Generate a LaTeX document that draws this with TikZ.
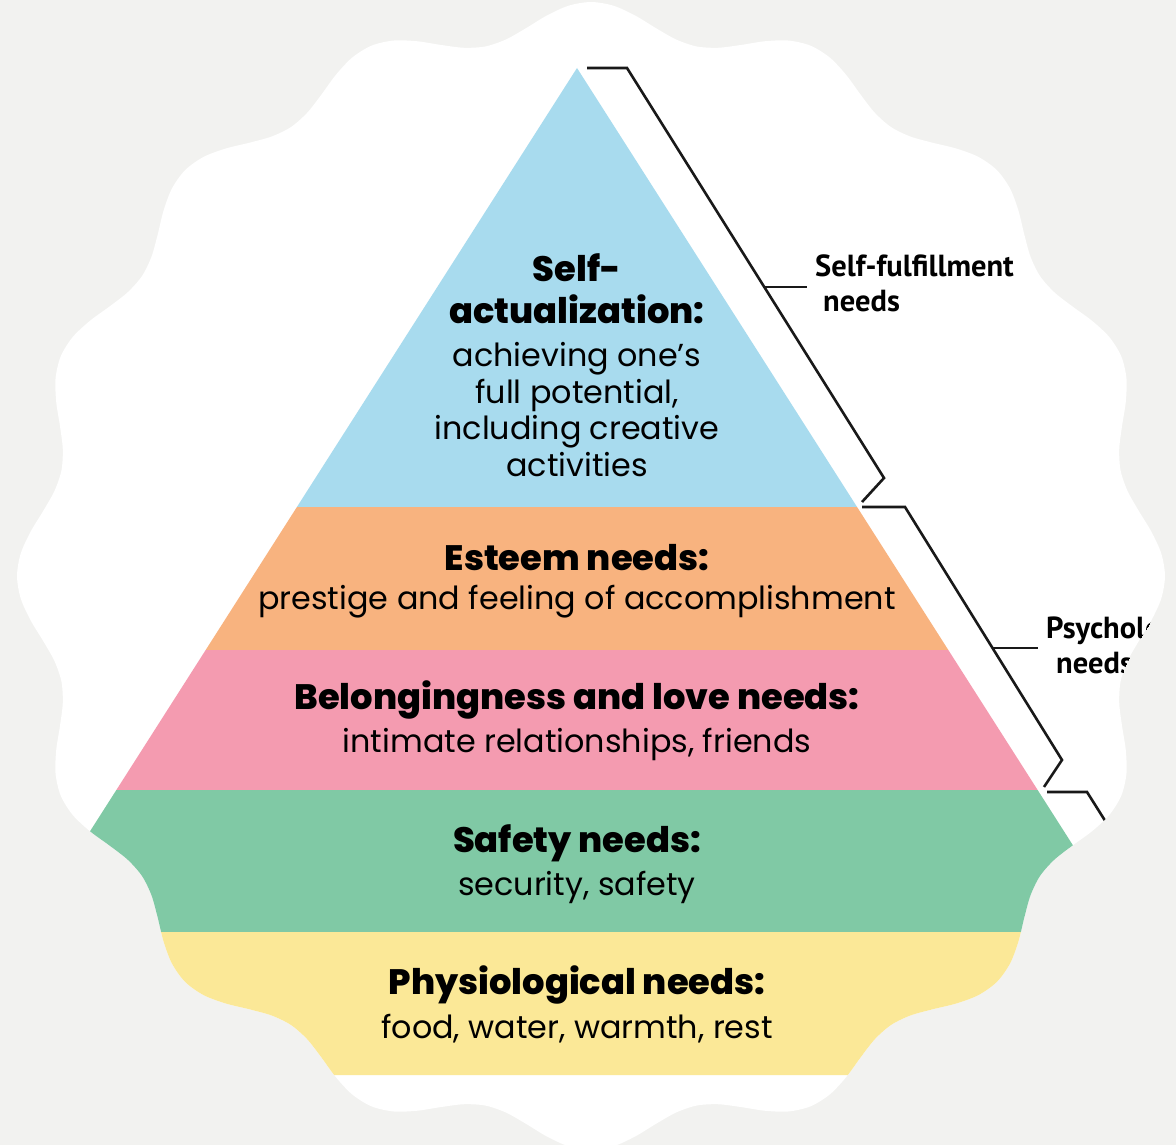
\documentclass[tikz,border=0pt]{standalone}
\usepackage{fontspec}
\IfFontExistsTF{Poppins ExtraBold}
  {\setmainfont{Poppins}[BoldFont={Poppins ExtraBold}]}
  {\setmainfont{Poppins}}
\newfontfamily\labelfont{PT Sans}
\usetikzlibrary{positioning}

\definecolor{bggray}{HTML}{F2F2F0}
\definecolor{selfblue}{HTML}{A8DBEE}
\definecolor{esteemorange}{HTML}{F8B37F}
\definecolor{lovepink}{HTML}{F49BB0}
\definecolor{safegreen}{HTML}{80C9A5}
\definecolor{physyellow}{HTML}{FBE897}

\tikzset{
  head/.style={font=\fontsize{35.3}{42}\selectfont\bfseries,align=center,inner sep=0pt},
  body/.style={font=\fontsize{31.8}{36.5}\selectfont,align=center,inner sep=0pt},
  side/.style={font=\labelfont\bfseries\fontsize{30.5}{35}\selectfont,align=left,anchor=west,inner sep=0pt},
  brace/.style={line width=2.6pt,black!90,line join=miter}
}

\begin{document}
\begin{tikzpicture}[x=1pt,y=-1pt,node distance=44pt,on grid]
   \useasboundingbox (0,0) rectangle (1176,1145);
   \fill[bggray] (0,0) rectangle (1176,1145);
   \begin{scope}
   \clip plot[domain=0:357.75,samples=160,smooth cycle,variable=\t]
      ({591+(557+17*cos(16*\t))*cos(\t)},{576+(557+17*cos(16*\t))*sin(\t)});
   \fill[white] (0,0) rectangle (1176,1145);
   \foreach \ya/\yb/\c in {68/507/selfblue,507/650/esteemorange,650/790/lovepink,
                           790/932/safegreen,932/1075/physyellow}
      \fill[\c] ({577-0.638*(\ya-68)},\ya) -- ({577+0.638*(\ya-68)},\ya)
             -- ({577+0.638*(\yb-68)},\yb) -- ({577-0.638*(\yb-68)},\yb) -- cycle;

   \node[head] (self)    at (577,289) {Self-\\actualization:};
   \node[body] (selftxt) [below=120.5pt of self]
        {achieving one’s\\full potential,\\including creative\\activities};
   \node[head] (esteem)  at (577,558) {Esteem needs:};
   \node[body] (esteemtxt) [below=of esteem] {prestige and feeling of accomplishment};
   \node[head] (love)    at (577,700) {Belongingness and love needs:};
   \node[body] (lovetxt) [below=of love] {intimate relationships, friends};
   \node[head] (safety)  at (577,843) {Safety needs:};
   \node[body] (safetytxt) [below=of safety] {security, safety};
   \node[head] (phys)    at (577,985) {Physiological needs:};
   \node[body] (phystxt) [below=of phys] {food, water, warmth, rest};

   \coordinate (sfTop) at (587,68);
   \coordinate (sfCorner) at (627,68);
   \coordinate (sfTip) at (884,478);
   \coordinate (sfEnd) at (862,502);
   \coordinate (psTop) at (862,507);
   \coordinate (psCorner) at (905,507);
   \coordinate (psTip) at (1062,760);
   \coordinate (psEnd) at (1044,787);
   \coordinate (bsTop) at (1047,792);
   \coordinate (bsCorner) at (1087,792);
   \coordinate (bsTip) at (1276,1092);
   \path (sfCorner) -- (sfTip) coordinate[pos=0.534] (sfMid);
   \path (psCorner) -- (psTip) coordinate[pos=0.557] (psMid);

   \node[side] (sfLabel) at (815,283) {Self-fulfillment\\\hspace{8pt}needs};
   \node[side] (psLabel) at (1046,645) {Psychological\\\hspace{10pt}needs};

   \draw[brace] (sfTop) -- (sfCorner) -- (sfTip) -- (sfEnd);
   \draw[brace] (psTop) -- (psCorner) -- (psTip) -- (psEnd);
   \draw[brace] (bsTop) -- (bsCorner) -- (bsTip);
   \draw[brace,shorten >=8pt] (sfMid) -- (sfMid -| sfLabel.west);
   \draw[brace,shorten >=8pt] (psMid) -- (psMid -| psLabel.west);
   \end{scope}
\end{tikzpicture}
\end{document}
